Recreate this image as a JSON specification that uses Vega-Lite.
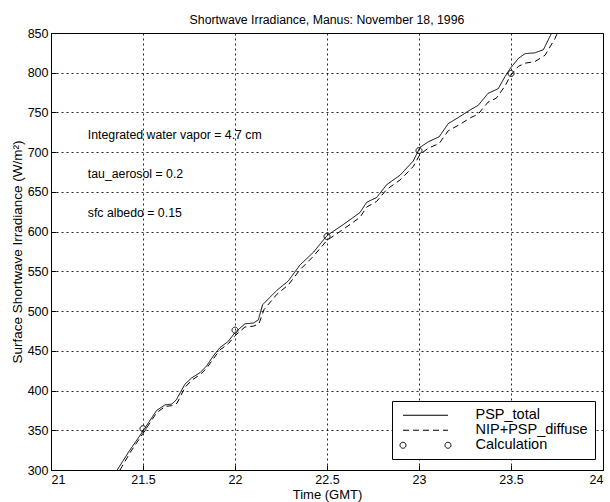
{
  "$schema": "https://vega.github.io/schema/vega-lite/v6.json",
  "width": 552,
  "height": 437,
  "autosize": "none",
  "padding": {"left": 51, "top": 33, "right": 7, "bottom": 32},
  "background": "white",
  "title": {"text": "Shortwave Irradiance, Manus: November 18, 1996", "fontSize": 12.3, "font": "Liberation Sans", "fontWeight": "normal", "color": "black", "offset": 1, "anchor": "middle"},
  "config": {
    "view": {"stroke": "black", "strokeWidth": 1},
    "font": "Liberation Sans",
    "axis": {
      "labelColor": "black", "labelFont": "Liberation Sans", "labelFontSize": 12.5,
      "titleFont": "Liberation Sans", "titleFontSize": 13, "titleFontWeight": "normal", "titleColor": "black",
      "labelOverlap": false
    }
  },
  "encoding": {
    "x": {"field": "t", "type": "quantitative", "scale": {"domain": [21, 24], "nice": false, "zero": false},
          "axis": {"orient": "bottom", "title": "Time (GMT)", "grid": true, "gridColor": "#000000", "gridOpacity": 0.85, "gridDash": [2, 3], "ticks": true, "tickSize": -5, "tickColor": "#000000", "tickWidth": 1, "domain": false, "values": [21, 21.5, 22, 22.5, 23, 23.5, 24], "format": "~g", "labelPadding": 8, "titlePadding": 3}},
    "y": {"field": "v", "type": "quantitative", "scale": {"domain": [300, 850], "nice": false, "zero": false},
          "axis": {"orient": "left", "title": "Surface Shortwave Irradiance (W/m²)", "titleFontSize": 13.5, "grid": true, "gridColor": "#000000", "gridOpacity": 0.85, "gridDash": [2, 3], "ticks": true, "tickSize": -5, "tickColor": "#000000", "tickWidth": 1, "domain": false, "values": [300, 350, 400, 450, 500, 550, 600, 650, 700, 750, 800, 850], "labelPadding": 8, "titlePadding": 3}}
  },
  "layer": [
    {
      "data": {"values": [
        {"t": 21.2, "v": 722, "label": "Integrated water vapor = 4.7 cm"},
        {"t": 21.2, "v": 673, "label": "tau_aerosol = 0.2"},
        {"t": 21.2, "v": 624, "label": "sfc albedo = 0.15"}
      ]},
      "mark": {"type": "text", "align": "left", "baseline": "middle", "fontSize": 12.3, "font": "Liberation Sans", "color": "black"},
      "encoding": {
        "text": {"field": "label"}
      }
    },
    {
      "data": {"values": [
        {"series": "PSP_total", "t": 21.36, "v": 300},
        {"series": "PSP_total", "t": 21.42, "v": 322},
        {"series": "PSP_total", "t": 21.5, "v": 349},
        {"series": "PSP_total", "t": 21.574, "v": 375},
        {"series": "PSP_total", "t": 21.62, "v": 382},
        {"series": "PSP_total", "t": 21.656, "v": 383},
        {"series": "PSP_total", "t": 21.68, "v": 388},
        {"series": "PSP_total", "t": 21.728, "v": 408},
        {"series": "PSP_total", "t": 21.765, "v": 416},
        {"series": "PSP_total", "t": 21.81, "v": 422.5},
        {"series": "PSP_total", "t": 21.846, "v": 431},
        {"series": "PSP_total", "t": 21.882, "v": 443.5},
        {"series": "PSP_total", "t": 21.918, "v": 454},
        {"series": "PSP_total", "t": 21.964, "v": 462},
        {"series": "PSP_total", "t": 22.0, "v": 473},
        {"series": "PSP_total", "t": 22.054, "v": 484},
        {"series": "PSP_total", "t": 22.1, "v": 485},
        {"series": "PSP_total", "t": 22.127, "v": 489},
        {"series": "PSP_total", "t": 22.15, "v": 508},
        {"series": "PSP_total", "t": 22.227, "v": 526},
        {"series": "PSP_total", "t": 22.29, "v": 538},
        {"series": "PSP_total", "t": 22.353, "v": 558},
        {"series": "PSP_total", "t": 22.426, "v": 574},
        {"series": "PSP_total", "t": 22.5, "v": 595},
        {"series": "PSP_total", "t": 22.589, "v": 609},
        {"series": "PSP_total", "t": 22.679, "v": 624},
        {"series": "PSP_total", "t": 22.716, "v": 637},
        {"series": "PSP_total", "t": 22.77, "v": 643},
        {"series": "PSP_total", "t": 22.824, "v": 659},
        {"series": "PSP_total", "t": 22.897, "v": 671},
        {"series": "PSP_total", "t": 22.969, "v": 689},
        {"series": "PSP_total", "t": 23.005, "v": 706},
        {"series": "PSP_total", "t": 23.05, "v": 713},
        {"series": "PSP_total", "t": 23.11, "v": 719.5},
        {"series": "PSP_total", "t": 23.159, "v": 736},
        {"series": "PSP_total", "t": 23.223, "v": 745},
        {"series": "PSP_total", "t": 23.277, "v": 753},
        {"series": "PSP_total", "t": 23.322, "v": 759},
        {"series": "PSP_total", "t": 23.375, "v": 774},
        {"series": "PSP_total", "t": 23.431, "v": 780},
        {"series": "PSP_total", "t": 23.467, "v": 795},
        {"series": "PSP_total", "t": 23.498, "v": 806},
        {"series": "PSP_total", "t": 23.54, "v": 818},
        {"series": "PSP_total", "t": 23.576, "v": 824},
        {"series": "PSP_total", "t": 23.63, "v": 825},
        {"series": "PSP_total", "t": 23.676, "v": 829},
        {"series": "PSP_total", "t": 23.721, "v": 850},
        {"series": "NIP+PSP_diffuse", "t": 21.375, "v": 300},
        {"series": "NIP+PSP_diffuse", "t": 21.43, "v": 322},
        {"series": "NIP+PSP_diffuse", "t": 21.5, "v": 346},
        {"series": "NIP+PSP_diffuse", "t": 21.574, "v": 372},
        {"series": "NIP+PSP_diffuse", "t": 21.62, "v": 380},
        {"series": "NIP+PSP_diffuse", "t": 21.656, "v": 381},
        {"series": "NIP+PSP_diffuse", "t": 21.685, "v": 384},
        {"series": "NIP+PSP_diffuse", "t": 21.728, "v": 404},
        {"series": "NIP+PSP_diffuse", "t": 21.765, "v": 413},
        {"series": "NIP+PSP_diffuse", "t": 21.81, "v": 420},
        {"series": "NIP+PSP_diffuse", "t": 21.846, "v": 428},
        {"series": "NIP+PSP_diffuse", "t": 21.882, "v": 440},
        {"series": "NIP+PSP_diffuse", "t": 21.918, "v": 451},
        {"series": "NIP+PSP_diffuse", "t": 21.964, "v": 459},
        {"series": "NIP+PSP_diffuse", "t": 22.0, "v": 469},
        {"series": "NIP+PSP_diffuse", "t": 22.054, "v": 480},
        {"series": "NIP+PSP_diffuse", "t": 22.1, "v": 481},
        {"series": "NIP+PSP_diffuse", "t": 22.13, "v": 484},
        {"series": "NIP+PSP_diffuse", "t": 22.158, "v": 502},
        {"series": "NIP+PSP_diffuse", "t": 22.227, "v": 521},
        {"series": "NIP+PSP_diffuse", "t": 22.29, "v": 533},
        {"series": "NIP+PSP_diffuse", "t": 22.353, "v": 552},
        {"series": "NIP+PSP_diffuse", "t": 22.426, "v": 569},
        {"series": "NIP+PSP_diffuse", "t": 22.5, "v": 589},
        {"series": "NIP+PSP_diffuse", "t": 22.589, "v": 603},
        {"series": "NIP+PSP_diffuse", "t": 22.679, "v": 618},
        {"series": "NIP+PSP_diffuse", "t": 22.716, "v": 631},
        {"series": "NIP+PSP_diffuse", "t": 22.77, "v": 638},
        {"series": "NIP+PSP_diffuse", "t": 22.824, "v": 653},
        {"series": "NIP+PSP_diffuse", "t": 22.897, "v": 665},
        {"series": "NIP+PSP_diffuse", "t": 22.969, "v": 682},
        {"series": "NIP+PSP_diffuse", "t": 23.005, "v": 697},
        {"series": "NIP+PSP_diffuse", "t": 23.05, "v": 705},
        {"series": "NIP+PSP_diffuse", "t": 23.11, "v": 711},
        {"series": "NIP+PSP_diffuse", "t": 23.159, "v": 727},
        {"series": "NIP+PSP_diffuse", "t": 23.223, "v": 735},
        {"series": "NIP+PSP_diffuse", "t": 23.277, "v": 743},
        {"series": "NIP+PSP_diffuse", "t": 23.322, "v": 748},
        {"series": "NIP+PSP_diffuse", "t": 23.375, "v": 763},
        {"series": "NIP+PSP_diffuse", "t": 23.42, "v": 768},
        {"series": "NIP+PSP_diffuse", "t": 23.467, "v": 783},
        {"series": "NIP+PSP_diffuse", "t": 23.498, "v": 797},
        {"series": "NIP+PSP_diffuse", "t": 23.54, "v": 808},
        {"series": "NIP+PSP_diffuse", "t": 23.576, "v": 812},
        {"series": "NIP+PSP_diffuse", "t": 23.63, "v": 814},
        {"series": "NIP+PSP_diffuse", "t": 23.685, "v": 822},
        {"series": "NIP+PSP_diffuse", "t": 23.739, "v": 843},
        {"series": "NIP+PSP_diffuse", "t": 23.752, "v": 850}
      ]},
      "mark": {"type": "line", "strokeWidth": 1, "color": "black", "clip": true},
      "encoding": {
        "detail": {"field": "series"},
        "strokeDash": {
          "field": "series", "type": "nominal",
          "scale": {"domain": ["PSP_total", "NIP+PSP_diffuse", "Calculation"], "range": [[1, 0], [6, 4], [1, 0]]},
          "legend": {
            "title": null, "orient": "none", "legendX": 341, "legendY": 368,
            "fillColor": "white", "strokeColor": "black", "padding": 7,
            "labelFontSize": 14.5, "labelFont": "Liberation Sans", "labelColor": "black",
            "symbolSize": 100, "symbolStrokeWidth": 1, "symbolStrokeColor": "black", "symbolFillColor": "transparent",
            "labelOffset": 62, "rowPadding": 0,
            "encode": {"symbols": {"update": {
              "shape": [{"test": "datum.label === 'Calculation'", "value": "M -3.9 0 A 0.6 0.6 0 1 1 -5.1 0 A 0.6 0.6 0 1 1 -3.9 0 Z M 5.1 0 A 0.6 0.6 0 1 1 3.9 0 A 0.6 0.6 0 1 1 5.1 0 Z"}, {"value": "M -4.5 0 L 4.5 0"}],
              "x": {"value": 26.5},
              "fill": {"value": "transparent"},
              "stroke": {"value": "black"}
            }}}
          }
        }
      }
    },
    {
      "data": {"values": [
        {"series": "Calculation", "t": 21.5, "v": 352},
        {"series": "Calculation", "t": 22.0, "v": 476},
        {"series": "Calculation", "t": 22.5, "v": 594},
        {"series": "Calculation", "t": 23.0, "v": 702},
        {"series": "Calculation", "t": 23.5, "v": 799}
      ]},
      "mark": {"type": "point", "shape": "circle", "size": 36, "filled": false, "color": "black", "strokeWidth": 1, "opacity": 1},
      "encoding": {
        "strokeDash": {"field": "series", "type": "nominal"}
      }
    }
  ]
}
